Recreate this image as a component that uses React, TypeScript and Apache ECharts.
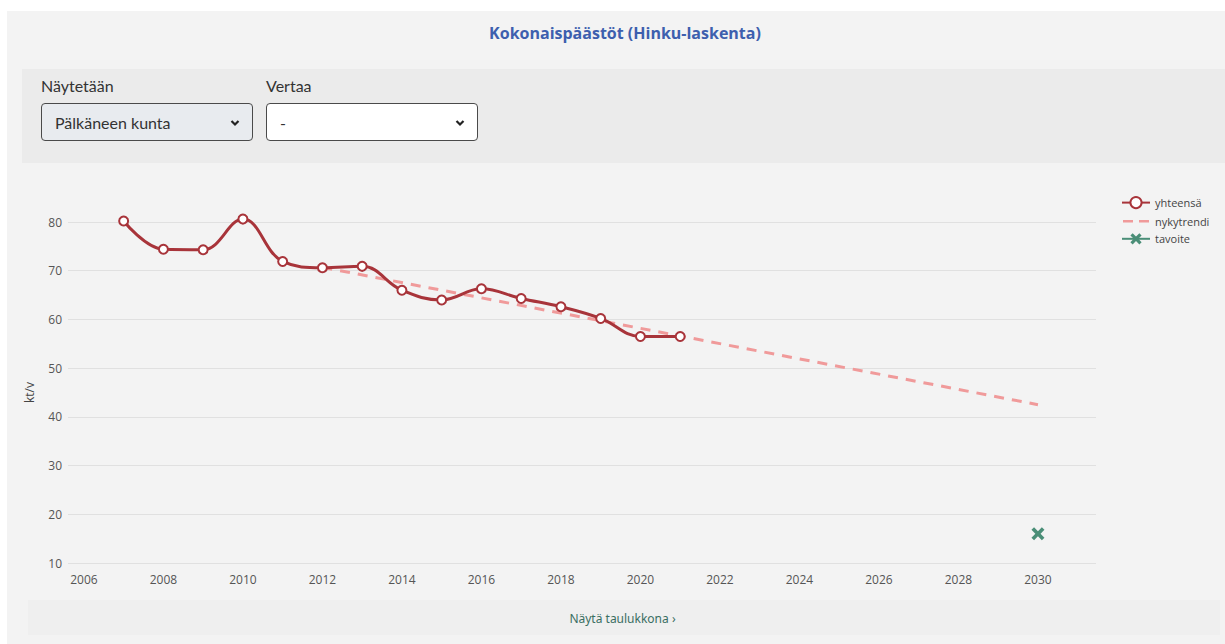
import React, { useEffect, useRef } from "react";
import * as echarts from "echarts";

const years = [2007, 2008, 2009, 2010, 2011, 2012, 2013, 2014, 2015, 2016, 2017, 2018, 2019, 2020, 2021];
const totals = [80.2, 74.4, 74.3, 80.6, 71.9, 70.6, 70.9, 66.0, 64.0, 66.3, 64.3, 62.6, 60.2, 56.5, 56.5];
const trendYears = [2012, 2030];
const trendValues = [70.7, 42.5];
const targetYears = [2030];
const targetValues = [16.0];
const xTickLabels = [2006, 2008, 2010, 2012, 2014, 2016, 2018, 2020, 2022, 2024, 2026, 2028, 2030];

const RED = "#a8343a";
const PINK = "#f09a9a";
const GREEN = "#4a8e77";
const X_PATH = "path://M2,0 L5,3 L8,0 L10,2 L7,5 L10,8 L8,10 L5,7 L2,10 L0,8 L3,5 L0,2 Z";
const DASH_ICON =
  "path://M0,0 L0.01,0 L0,0.01 Z M27.99,14 L28,14 L28,13.99 Z M1,5.8 L11,5.8 L11,8.2 L1,8.2 Z M17,5.8 L27,5.8 L27,8.2 L17,8.2 Z";

function Chart() {
  const ref = useRef<HTMLDivElement>(null);
  useEffect(() => {
    if (!ref.current) return;
    const chart = echarts.init(ref.current, undefined, { renderer: "svg" });
    chart.setOption({
      animation: false,
      backgroundColor: "transparent",
      textStyle: { fontFamily: "'Open Sans', sans-serif" },
      grid: { left: 60, right: 129, top: 57, bottom: 37 },
      legend: {
        orient: "vertical",
        left: 1108,
        top: 26,
        itemWidth: 28,
        itemHeight: 14,
        itemGap: 5,
        textStyle: { fontSize: 11, color: "#444", fontFamily: "'Open Sans', sans-serif" },
        data: [
          { name: "yhteensä" },
          { name: "nykytrendi", icon: DASH_ICON, itemStyle: { color: PINK } },
          { name: "tavoite" },
        ],
      },
      xAxis: {
        type: "value",
        min: 2005.6,
        max: 2031.46,
        axisLine: { show: false },
        axisTick: { show: false },
        splitLine: { show: false },
        axisLabel: {
          customValues: xTickLabels,
          color: "#555",
          fontSize: 12,
          margin: 10,
          formatter: (v: number) => String(v),
        },
      },
      yAxis: {
        type: "value",
        min: 10,
        max: 80,
        interval: 10,
        name: "kt/v",
        nameLocation: "middle",
        nameGap: 33,
        nameRotate: 90,
        nameTextStyle: { color: "#444", fontSize: 12 },
        axisLine: { show: false },
        axisTick: { show: false },
        axisLabel: { color: "#555", fontSize: 12, margin: 6 },
        splitLine: { lineStyle: { color: "#e0e0e0", width: 1 } },
      },
      series: [
        {
          name: "yhteensä",
          type: "line",
          clip: false,
          smooth: 0.4,
          data: years.map((y, i) => [y, totals[i]]),
          symbol: "circle",
          symbolSize: 9,
          z: 3,
          lineStyle: { color: RED, width: 3 },
          itemStyle: { color: "#ffffff", borderColor: RED, borderWidth: 2 },
        },
        {
          name: "nykytrendi",
          type: "line",
          clip: false,
          data: trendYears.map((y, i) => [y, trendValues[i]]),
          showSymbol: false,
          symbol: "none",
          z: 2,
          lineStyle: { color: PINK, width: 3, type: [10, 8] },
          itemStyle: { color: PINK },
        },
        {
          name: "tavoite",
          type: "line",
          clip: false,
          data: targetYears.map((y, i) => [y, targetValues[i]]),
          symbol: X_PATH,
          symbolSize: 13,
          lineStyle: { color: GREEN, width: 3 },
          itemStyle: { color: GREEN },
        },
      ],
    });
    return () => chart.dispose();
  }, []);
  return <div ref={ref} style={{ position: "absolute", left: 8, top: 165, width: 1217, height: 435 }} />;
}

const selectStyle: React.CSSProperties = {
  position: "absolute",
  top: 103,
  width: 212,
  height: 38,
  boxSizing: "border-box",
  border: "1px solid #4a4a4a",
  borderRadius: 4,
  fontFamily: "Lato, sans-serif",
  fontSize: 16,
  color: "#333",
  display: "flex",
  alignItems: "center",
  paddingLeft: 13,
};

function Chevron() {
  return (
    <svg width="10" height="8" viewBox="0 0 10 8" style={{ position: "absolute", right: 12, top: 15 }}>
      <polyline points="1.5,2 5,5.5 8.5,2" fill="none" stroke="#222" strokeWidth="2.2" />
    </svg>
  );
}

export default function App() {
  return (
    <div style={{ position: "absolute", left: 0, top: 0, width: 1225, height: 644, background: "#ffffff", overflow: "hidden" }}>
      <div style={{ position: "absolute", left: 7, top: 11, width: 1218, height: 633, background: "#f3f3f3" }} />
      <div
        style={{
          position: "absolute",
          left: 0,
          top: 22,
          width: 1250,
          textAlign: "center",
          fontFamily: "'Open Sans', sans-serif",
          fontWeight: 700,
          fontSize: 16,
          color: "#3d5fae",
        }}
      >
        Kokonaispäästöt (Hinku-laskenta)
      </div>
      <div style={{ position: "absolute", left: 22, top: 69, width: 1203, height: 94, background: "#ebebeb" }} />
      <div style={{ position: "absolute", left: 41, top: 76, fontFamily: "Lato, sans-serif", fontSize: 16, color: "#333" }}>Näytetään</div>
      <div style={{ position: "absolute", left: 266, top: 76, fontFamily: "Lato, sans-serif", fontSize: 16, color: "#333" }}>Vertaa</div>
      <div style={{ ...selectStyle, left: 41, background: "#e8ebef" }}>
        Pälkäneen kunta
        <Chevron />
      </div>
      <div style={{ ...selectStyle, left: 266, background: "#ffffff" }}>
        -
        <Chevron />
      </div>
      <div style={{ position: "absolute", left: 28, top: 600, width: 1192, height: 35, background: "#efefef" }} />
      <div
        style={{
          position: "absolute",
          left: 0,
          top: 610,
          width: 1245,
          textAlign: "center",
          fontFamily: "'Noto Sans', sans-serif",
          fontSize: 12,
          color: "#3a6e62",
        }}
      >
        Näytä taulukkona ›
      </div>
      <Chart />
    </div>
  );
}
